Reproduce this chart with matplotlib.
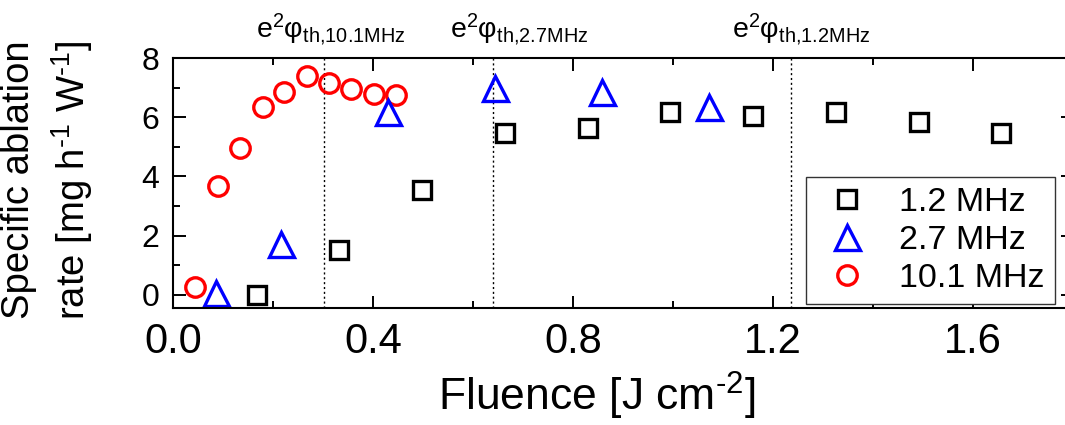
import matplotlib
matplotlib.use("Agg")
import matplotlib.pyplot as plt
from matplotlib.ticker import MultipleLocator
from matplotlib.transforms import blended_transform_factory

plt.rcParams['font.family'] = ['Liberation Sans', 'DejaVu Sans']
plt.rcParams['mathtext.fontset'] = 'custom'
plt.rcParams['mathtext.rm'] = 'Liberation Sans'
plt.rcParams['mathtext.it'] = 'Liberation Sans:italic'
plt.rcParams['mathtext.bf'] = 'Liberation Sans:bold'

# ---- data ----
fluence_12 = [0.167, 0.331, 0.497, 0.663, 0.829, 0.994, 1.159, 1.325, 1.491, 1.656]
rate_12 = [0.0, 1.51, 3.53, 5.48, 5.62, 6.18, 6.05, 6.18, 5.82, 5.46]
fluence_27 = [0.086, 0.215, 0.429, 0.644, 0.857, 1.072]
rate_27 = [0.05, 1.73, 6.16, 7.0, 6.84, 6.33]
fluence_101 = [0.044, 0.089, 0.133, 0.179, 0.221, 0.267, 0.312, 0.356, 0.401, 0.445]
rate_101 = [0.26, 3.67, 4.97, 6.36, 6.86, 7.40, 7.15, 6.95, 6.80, 6.75]
series_labels = ['1.2 MHz', '2.7 MHz', '10.1 MHz']
threshold_x = [0.302, 0.639, 1.235]
threshold_labels = [r'$\mathrm{e}^{2}\mathrm{φ}_{\mathrm{th{,}10.1MHz}}$',
                    r'$\mathrm{e}^{2}\mathrm{φ}_{\mathrm{th{,}2.7MHz}}$',
                    r'$\mathrm{e}^{2}\mathrm{φ}_{\mathrm{th{,}1.2MHz}}$']
threshold_label_x = [0.166, 0.554, 1.118]
xticks = [0.0, 0.4, 0.8, 1.2, 1.6]
yticks = [0, 2, 4, 6, 8]

W, H = 1065, 425
fig = plt.figure(figsize=(W / 100, H / 100), dpi=100)
ax = fig.add_axes([173 / W, 1 - 308 / H, 900 / W, 250 / H])

mew = 2.4
hc, = ax.plot(fluence_101, rate_101, 'o', ms=14, mfc='none', mec='#ff0000', mew=mew,
              ls='none', label=series_labels[2])
ht, = ax.plot(fluence_27, rate_27, '^', ms=18, mfc='none', mec='#0000ff', mew=mew,
              ls='none', label=series_labels[1])
hs, = ax.plot(fluence_12, rate_12, 's', ms=13, mfc='none', mec='black', mew=mew,
              ls='none', label=series_labels[0])

for xv in threshold_x:
    ax.axvline(xv, color='black', lw=1.0, ls=(0, (1.5, 2)), zorder=0)

ax.set_xlim(0, 1.8)
ax.set_ylim(-0.45, 8)
ax.set_xticks(xticks)
ax.set_xticklabels([f'{v:.1f}' for v in xticks])
ax.set_yticks(yticks)
ax.xaxis.set_minor_locator(MultipleLocator(0.2))
ax.yaxis.set_minor_locator(MultipleLocator(1))
ax.tick_params(which='both', direction='in', top=True, right=True, width=1.4)
ax.tick_params(which='major', length=9)
ax.tick_params(which='minor', length=5)
ax.tick_params(axis='x', which='major', labelsize=30, pad=10)
ax.tick_params(axis='y', which='major', labelsize=23, pad=10)
for sp in ax.spines.values():
    sp.set_linewidth(1.5)

trans = blended_transform_factory(ax.transData, fig.transFigure)
for xl, lab in zip(threshold_label_x, threshold_labels):
    ax.text(xl, 1 - 37 / H, lab, transform=trans, ha='left', va='baseline',
            fontsize=20.5, clip_on=False)

fig.text(597 / W, 1 - 411 / H, 'Fluence [J cm$^{\u2010\\mathrm{2}}$]', ha='center',
         va='baseline', fontsize=32)
fig.text(48 / W, 1 - 180 / H,
         'Specific ablation\n' + 'rate [mg h$^{\u2010\\mathrm{1}}$ W$^{\u2010\\mathrm{1}}$]',
         rotation=90, ha='center', va='center', fontsize=27.5, linespacing=1.35,
         multialignment='center')

leg = ax.legend(handles=[hs, ht, hc], loc='lower left',
                bbox_to_anchor=(0.703, 0.016), borderaxespad=0, fontsize=24.5,
                frameon=True, fancybox=False, edgecolor='#333333', framealpha=1,
                handlelength=1.8, handletextpad=0.65, labelspacing=0.2,
                borderpad=0.3)
leg.get_frame().set_linewidth(1.0)

fig.savefig('out.png', dpi=100)
